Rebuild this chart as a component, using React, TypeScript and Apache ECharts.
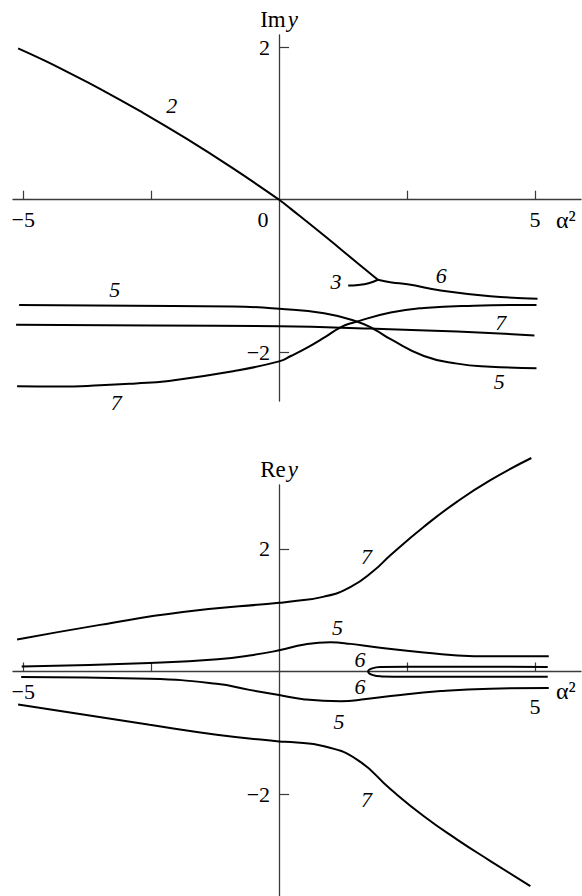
import React, { useEffect, useRef } from "react";
import * as echarts from "echarts";

const FONT = '"Liberation Serif", "DejaVu Serif", "Times New Roman", serif';

// Shared abscissa (α²) range and ticks
const X_MIN = -5.2;
const X_MAX = 5.9;
const xTickValues = [-5, -2.5, 2.5, 5];
const yTickValues = [-2, 2];
const imXTickLabels = [-5, 0, 5];
const reXTickLabels = [-5, 5];
const IM_RANGE = [-2.64, 2.16];
const RE_RANGE = [-3.66, 3.04];

// Im y branches, [α², Im y]
const imBranch2 = [
  [-5.1, 1.985], [-4.6, 1.83], [-4.15, 1.68], [-3.5, 1.455], [-2.66, 1.14], [-1.81, 0.8],
  [-0.9, 0.41], [0, 0], [0.23, -0.12], [0.88, -0.47], [1.53, -0.83], [1.93, -1.05],
];
const imBranch3 = [[1.35, -1.125], [1.55, -1.118], [1.75, -1.095], [1.93, -1.05]];
const imBranch6 = [
  [1.93, -1.05], [2.2, -1.085], [2.51, -1.11], [3.16, -1.19], [4.13, -1.265], [5.05, -1.3],
];
const imBranch5 = [
  [-5.08, -1.38], [-2.85, -1.39], [-0.9, -1.4], [0, -1.43], [0.88, -1.49], [1.53, -1.6],
  [1.86, -1.7], [2.18, -1.83], [2.83, -2.05], [3.48, -2.15], [4.13, -2.19], [5.03, -2.21],
];
const imBranchFlat = [
  [-5.14, -1.64], [-2.5, -1.65], [0, -1.66], [1.79, -1.69], [3.48, -1.73], [4.99, -1.78],
];
const imBranch7 = [
  [-5.12, -2.445], [-4.3, -2.45], [-3.5, -2.435], [-2.8, -2.41], [-2.2, -2.38], [-0.9, -2.25],
  [0, -2.12], [0.23, -2.05], [0.55, -1.94], [0.88, -1.81], [1.21, -1.67], [1.46, -1.61],
  [2.18, -1.48], [2.83, -1.42], [3.81, -1.39], [5.03, -1.38],
];

// Re y branches, [α², Re y]
const reBranch7Up = [
  [-5.12, 0.52], [-3.5, 0.76], [-1.88, 0.97], [0, 1.12], [0.23, 1.14], [0.88, 1.22],
  [1.4, 1.38], [1.86, 1.65], [2.18, 1.9], [2.83, 2.36], [3.48, 2.77], [4.13, 3.12], [4.93, 3.48],
];
const reBranch5Up = [
  [-5.03, 0.08], [-2.53, 0.14], [-1.2, 0.2], [-0.5, 0.27], [0, 0.345], [0.5, 0.44],
  [1.0, 0.475], [1.4, 0.45], [1.86, 0.4], [2.83, 0.31], [3.81, 0.25], [5.27, 0.25],
];
const reBranch6Loop = [
  [5.25, 0.075], [3.5, 0.078], [2.5, 0.078], [2.0, 0.072], [1.82, 0.05], [1.74, 0],
  [1.82, -0.055], [2.0, -0.08], [2.5, -0.085], [3.5, -0.085], [5.25, -0.085],
];
const reBranch5Down = [
  [-5.04, -0.09], [-2.53, -0.12], [-1.22, -0.2], [-0.58, -0.3], [0, -0.385], [0.5, -0.455],
  [1.2, -0.485], [1.7, -0.45], [2.18, -0.4], [3.16, -0.32], [4.13, -0.28], [5.27, -0.27],
];
const reBranch7Down = [
  [-5.1, -0.54], [-2.53, -0.87], [-1.22, -1.03], [0, -1.14], [0.23, -1.15], [0.88, -1.22],
  [1.53, -1.44], [2.18, -1.92], [2.83, -2.36], [3.48, -2.74], [4.13, -3.09], [4.91, -3.5],
];

// Branch numbers written next to the curves, [α², y, text]
const imCurveTags = [
  [-2.1, 1.23, "2"], [1.11, -1.07, "3"], [3.17, -1.0, "6"], [-3.21, -1.18, "5"],
  [4.33, -1.61, "7"], [4.3, -2.39, "5"], [-3.18, -2.66, "7"],
];
const reCurveTags = [
  [1.71, 1.87, "7"], [1.14, 0.72, "5"], [1.58, 0.19, "6"], [1.58, -0.25, "6"],
  [1.17, -0.81, "5"], [1.71, -2.09, "7"],
];

// Plot boxes (pixels)
const GRID_LEFT = 13;
const GRID_WIDTH = 568;
const IM_BOX = { top: 35, height: 366 };
const RE_BOX = { top: 485, height: 411 };

const minus = (v: number) => (v < 0 ? "\u2212" + Math.abs(v) : String(v));

const plain = { fontFamily: FONT, fontSize: 22, color: "#000" };
const axisStroke = { color: "#3a3a3a", width: 1.3 };

// distance from the default (bottom / left) axis position to the zero line
const xZeroOffset = (range: number[], height: number) => -((0 - range[0]) / (range[1] - range[0])) * height;
const yZeroOffset = -((0 - X_MIN) / (X_MAX - X_MIN)) * GRID_WIDTH;

function xAxisFor(idx: number, range: number[], height: number, labels: number[], rich: any, fmt: (v: number) => string) {
  return {
    type: "value",
    gridIndex: idx,
    min: X_MIN,
    max: X_MAX,
    position: "bottom",
    offset: xZeroOffset(range, height),
    axisLine: { show: true, onZero: false, lineStyle: axisStroke },
    axisTick: { show: true, inside: true, length: 9, customValues: xTickValues, lineStyle: { ...axisStroke, width: 1.2 } },
    axisLabel: { show: true, margin: 9, customValues: labels, formatter: fmt, ...plain, rich },
    splitLine: { show: false },
  };
}

function yAxisFor(idx: number, range: number[], title: string) {
  return {
    type: "value",
    gridIndex: idx,
    min: range[0],
    max: range[1],
    position: "left",
    offset: yZeroOffset,
    name: `{r|${title}}{i|y}`,
    nameLocation: "end",
    nameGap: 4,
    nameTextStyle: {
      align: "center",
      rich: {
        r: { ...plain, fontSize: 23 },
        i: { ...plain, fontSize: 23, fontStyle: "italic", padding: [0, 0, 0, 2] },
      },
    },
    axisLine: { show: true, onZero: false, lineStyle: axisStroke },
    axisTick: { show: true, inside: true, length: 10, customValues: yTickValues, lineStyle: { ...axisStroke, width: 1.2 } },
    axisLabel: { show: true, margin: 9, customValues: yTickValues, formatter: (v: number) => minus(v), ...plain },
    splitLine: { show: false },
  };
}

const curve = (data: number[][], idx: number) => ({
  type: "line",
  data,
  xAxisIndex: idx,
  yAxisIndex: idx,
  showSymbol: false,
  symbol: "none",
  smooth: 0.5,
  clip: false,
  silent: true,
  lineStyle: { color: "#000", width: 2 },
});

const tags = (list: any[], idx: number) => ({
  type: "scatter",
  xAxisIndex: idx,
  yAxisIndex: idx,
  symbolSize: 0,
  clip: false,
  silent: true,
  itemStyle: { color: "#000", opacity: 1 },
  data: list.map((t) => ({ value: [t[0], t[1]], name: t[2] })),
  label: {
    show: true,
    position: "inside",
    formatter: "{b}",
    ...plain,
    fontStyle: "italic",
    opacity: 1,
    textBorderWidth: 0,
  },
});

export default function App() {
  const ref = useRef<HTMLDivElement>(null);

  useEffect(() => {
    if (!ref.current) return;
    const chart = echarts.init(ref.current, null, { renderer: "svg" });
    chart.setOption({
      animation: false,
      backgroundColor: "#fff",
      grid: [
        { left: GRID_LEFT, width: GRID_WIDTH, ...IM_BOX, outerBoundsMode: "none", containLabel: false },
        { left: GRID_LEFT, width: GRID_WIDTH, ...RE_BOX, outerBoundsMode: "none", containLabel: false },
      ],
      xAxis: [
        xAxisFor(
          0,
          IM_RANGE,
          IM_BOX.height,
          imXTickLabels,
          { z: { ...plain, padding: [0, 32, 0, 0] } },
          (v: number) => (v === 0 ? "{z|0}" : minus(v))
        ),
        xAxisFor(
          1,
          RE_RANGE,
          RE_BOX.height,
          reXTickLabels,
          { d: { ...plain, padding: [15, 0, 0, 0] } },
          (v: number) => (v > 0 ? `{d|${v}}` : minus(v))
        ),
      ],
      yAxis: [yAxisFor(0, IM_RANGE, "Im"), yAxisFor(1, RE_RANGE, "Re")],
      graphic: [
        { type: "text", x: 556, y: 220, style: { text: "α²", fontFamily: FONT, fontSize: 24, fill: "#000", verticalAlign: "middle" } },
        { type: "text", x: 556, y: 691, style: { text: "α²", fontFamily: FONT, fontSize: 24, fill: "#000", verticalAlign: "middle" } },
      ],
      series: [
        curve(imBranch2, 0),
        curve(imBranch3, 0),
        curve(imBranch6, 0),
        curve(imBranch5, 0),
        curve(imBranchFlat, 0),
        curve(imBranch7, 0),
        tags(imCurveTags, 0),
        curve(reBranch7Up, 1),
        curve(reBranch5Up, 1),
        curve(reBranch6Loop, 1),
        curve(reBranch5Down, 1),
        curve(reBranch7Down, 1),
        tags(reCurveTags, 1),
      ],
    });
    return () => chart.dispose();
  }, []);

  return (
    <div
      ref={ref}
      style={{ position: "absolute", left: 0, top: 0, width: 582, height: 896, background: "#fff" }}
    />
  );
}
